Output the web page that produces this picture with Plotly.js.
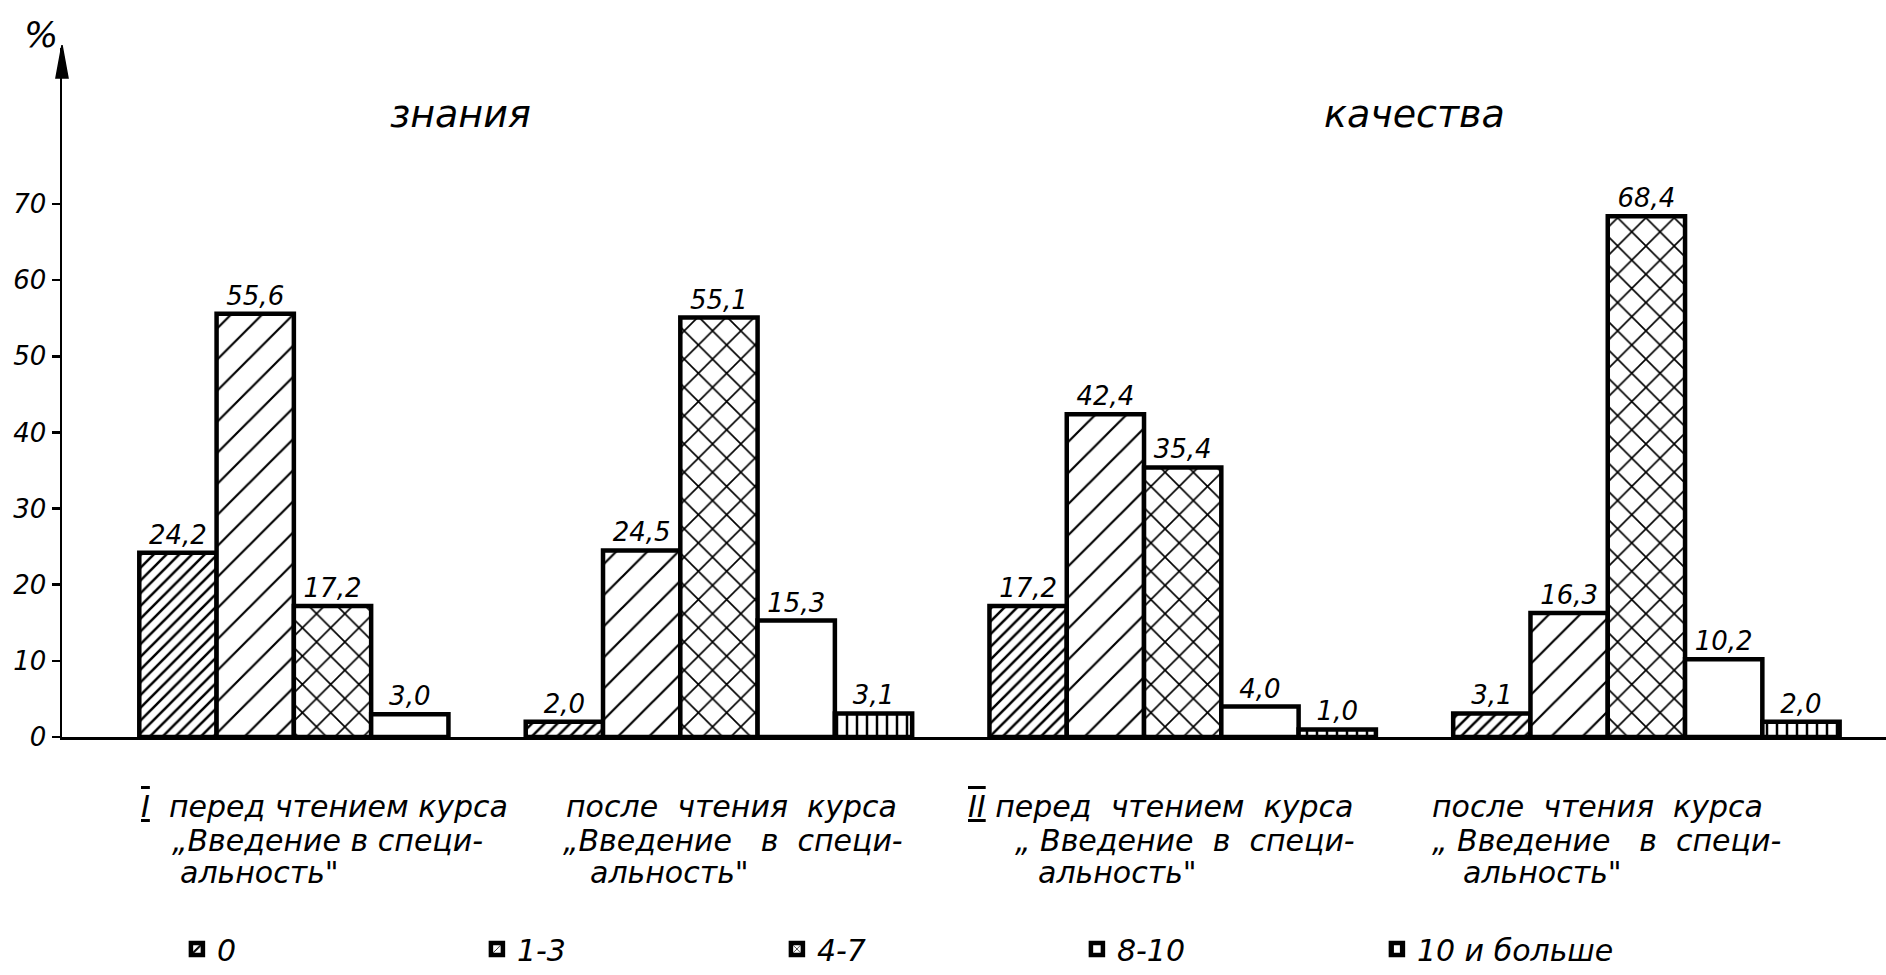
<!DOCTYPE html>
<html>
<head>
<meta charset="utf-8">
<script src="https://cdn.plot.ly/plotly-3.0.1.min.js"></script>
<style>html,body{margin:0;padding:0;background:#fff;}#chart{width:1886px;height:975px;}</style>
</head>
<body>
<div id="chart"></div>
<script>
// ---- data ----
const seriesNames = ['0', '1-3', '4-7', '8-10', '10 и больше'];
const s0 = [24.2, 2.0, 17.2, 3.1];
const s1 = [55.6, 24.5, 42.4, 16.3];
const s2 = [17.2, 55.1, 35.4, 68.4];
const s3 = [3.0, 15.3, 4.0, 10.2];
const s4 = [null, 3.1, 1.0, 2.0];
const groupLabelLines = [
  ['<span style="text-decoration:underline overline">I</span>  перед чтением курса', '„Введение в специ-', 'альность"'],
  ['после  чтения  курса', '„Введение   в  специ-', 'альность"'],
  ['<span style="text-decoration:underline overline">II</span> перед  чтением  курса', '„ Введение  в  специ-', 'альность"'],
  ['после  чтения  курса', '„ Введение   в  специ-', 'альность"']
];
const sectionTitles = ['знания', 'качества'];
const yTicks = [0, 10, 20, 30, 40, 50, 60, 70];

// ---- layout helpers ----
const groupStart = [1, 6, 12, 18];        // left edge of each group (bar-width units)
const lineIndent = [[0, 0.4, 0.5], [0.5, 0.45, 0.8], [-0.3, 0.3, 0.6], [-0.3, -0.3, 0.1]];
const lineY = [-0.1014, -0.1507, -0.197];
const FONT = 'DejaVu Sans, Noto Sans, sans-serif';

const allSeries = [s0, s1, s2, s3, s4];
const patterns = [
  {shape: '/', size: 9, solidity: 0.28},
  {shape: '/', size: 22, solidity: 0.1},
  {shape: 'x', size: 20, solidity: 0.16},
  {shape: ''},
  {shape: '|', size: 10, solidity: 0.25}
];

const traces = allSeries.map((vals, s) => ({
  type: 'bar',
  name: seriesNames[s],
  x: groupStart.map(g => g + s + 0.5),
  y: vals,
  width: 1,
  marker: {
    color: 'white',
    line: {color: 'black', width: 4.5},
    pattern: Object.assign({fgcolor: 'black', bgcolor: 'white', fillmode: 'replace'}, patterns[s])
  },
  texttemplate: '%{y:.1f}',
  textposition: 'outside',
  constraintext: 'none',
  cliponaxis: false,
  textfont: {family: FONT, size: 26, style: 'italic', color: 'black'},
  hoverinfo: 'skip'
}));

const annotations = [];
groupLabelLines.forEach((lines, g) => {
  lines.forEach((t, i) => {
    annotations.push({
      text: t, xref: 'x', yref: 'paper',
      x: groupStart[g] + lineIndent[g][i], y: lineY[i],
      xanchor: 'left', yanchor: 'middle', showarrow: false,
      font: {family: FONT, size: 30, style: 'italic', color: 'black'}
    });
  });
});
const titleX = [5.15, 17.5];
sectionTitles.forEach((t, i) => annotations.push({
  text: t, xref: 'x', yref: 'paper', x: titleX[i], y: 0.904,
  showarrow: false, xanchor: 'center', yanchor: 'middle',
  font: {family: FONT, size: 38, style: 'italic', color: 'black'}
}));
annotations.push({
  text: '%', xref: 'paper', yref: 'paper', x: -0.0115, y: 1.02,
  showarrow: false, xanchor: 'center', yanchor: 'middle',
  font: {family: FONT, size: 36, style: 'italic', color: 'black'}
});

const layout = {
  width: 1886, height: 975,
  margin: {l: 62, r: 0, t: 48, b: 237},
  paper_bgcolor: 'white', plot_bgcolor: 'white',
  barmode: 'overlay',
  separators: ', ',
  showlegend: true,
  font: {family: FONT, color: 'black'},
  xaxis: {
    range: [0, 23.6], showgrid: false, zeroline: false, showticklabels: false,
    ticks: '', showline: true, linecolor: 'black', linewidth: 3, fixedrange: true
  },
  yaxis: {
    range: [0, 90.5], tickvals: yTicks, showgrid: false, zeroline: false,
    showline: true, linecolor: 'black', linewidth: 2.5,
    ticks: 'outside', ticklen: 8, tickwidth: 2.5, tickcolor: 'black',
    tickfont: {family: FONT, size: 26, style: 'italic', color: 'black'},
    fixedrange: true
  },
  legend: {
    orientation: 'h', x: 0.063, xanchor: 'left', y: -0.307, yanchor: 'middle',
    font: {family: FONT, size: 30, style: 'italic', color: 'black'},
    entrywidth: 255, entrywidthmode: 'pixels', traceorder: 'normal',
    bgcolor: 'rgba(0,0,0,0)'
  },
  shapes: [{
    type: 'path', xref: 'paper', yref: 'paper',
    path: 'M -0.0033,0.9565 L 0,1.0043 L 0.0033,0.9565 Z',
    fillcolor: 'black', line: {color: 'black', width: 1.5}
  }],
  annotations: annotations
};

Plotly.newPlot('chart', traces, layout, {displayModeBar: false, staticPlot: true});
</script>
</body>
</html>
